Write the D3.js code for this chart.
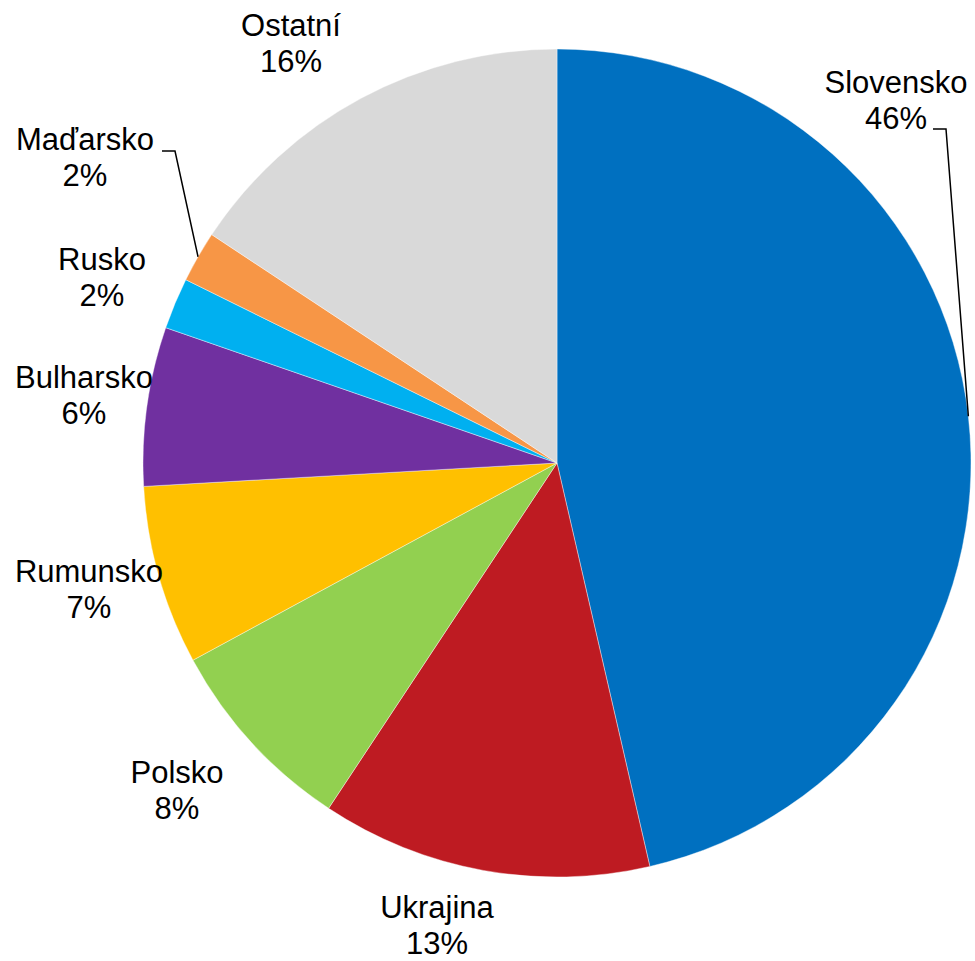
<!DOCTYPE html>
<html>
<head>
<meta charset="utf-8">
<script src="https://cdn.jsdelivr.net/npm/d3@7"></script>
<style>
html,body{margin:0;padding:0;background:#fff;}
svg{display:block;}
text{font-family:"Liberation Sans",Arial,sans-serif;font-size:31px;fill:#000;}
</style>
</head>
<body>
<svg id="chart" width="975" height="961"></svg>
<script>
// Data (share of total, %)
const categories = ["Slovensko","Ukrajina","Polsko","Rumunsko","Bulharsko","Rusko","Maďarsko","Ostatní"];
const values = [46.4, 12.9, 7.8, 7.0, 6.2, 2.0, 2.0, 15.7];
const colors = ["#0070C0","#BE1B22","#92D050","#FFC000","#7030A0","#00B0F0","#F79646","#D9D9D9"];

// Layout (label anchors, leader lines)
const labelPos = [[896,93],[437,918],[177,783],[89,582],[84,388],[102,270],[85,150],[291,36]];
const leaders = {0:[[933,129],[946,129]], 6:[[162,151],[175,151]]};

const svg = d3.select("#chart");
const cx = 557, cy = 463, r = 414;
const g = svg.append("g").attr("transform", `translate(${cx},${cy})`);

const data = categories.map((c,i)=>({name:c, value:values[i], color:colors[i], idx:i}));
const pie = d3.pie().value(d=>d.value).sort(null);
const arcs = pie(data);
const arc = d3.arc().innerRadius(0).outerRadius(r);
const edge = d3.arc().innerRadius(r).outerRadius(r);

g.selectAll("path.slice").data(arcs).enter().append("path")
  .attr("class","slice")
  .attr("d", arc)
  .attr("fill", d=>d.data.color)
  .attr("stroke","#fff").attr("stroke-width",0.4);

// leader lines
arcs.forEach((a,i)=>{
  if (!leaders[i]) return;
  const [ex,ey] = edge.centroid(a);
  const pts = leaders[i].concat([[cx+ex, cy+ey]]);
  svg.append("path")
    .attr("d", d3.line()(pts))
    .attr("fill","none").attr("stroke","#000").attr("stroke-width",1.5);
});

// labels
arcs.forEach((a,i)=>{
  const [lx,ly] = labelPos[i];
  const t = svg.append("text").attr("text-anchor","middle");
  t.append("tspan").attr("x",lx).attr("y",ly).text(a.data.name);
  t.append("tspan").attr("x",lx).attr("y",ly+36).text(Math.round(a.data.value)+"%");
});
</script>
</body>
</html>
